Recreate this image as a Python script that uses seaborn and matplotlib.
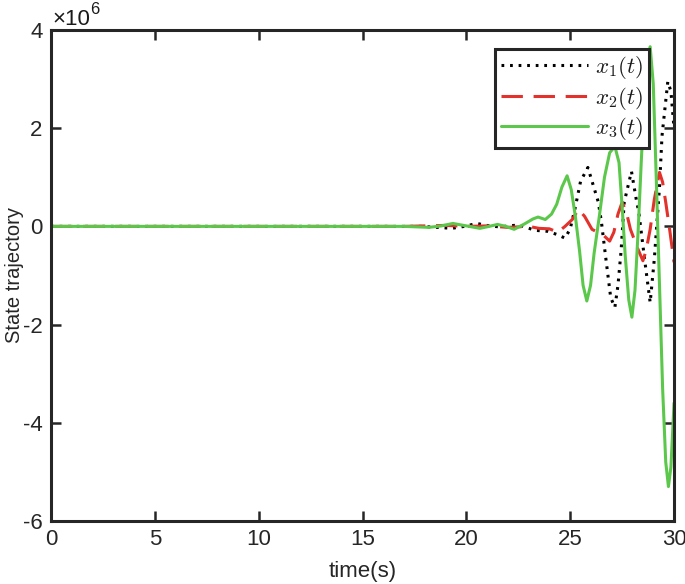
import numpy as np
import pandas as pd
import matplotlib
matplotlib.use("Agg")
import matplotlib.pyplot as plt
import seaborn as sns
from matplotlib.font_manager import FontProperties

# ─────────────────────────────────────────────
#  Data (values in units of 1e6)
# ─────────────────────────────────────────────
t_x1 = [0, 17, 17.8, 18.6, 19.3, 19.9, 20.5, 21.1, 21.6, 22.3, 22.6, 23.3, 23.9,
        24.4, 24.75, 25.0, 25.25, 25.5, 25.85, 26.1, 26.35, 26.5, 26.7, 26.95,
        27.15, 27.3, 27.45, 27.6, 27.95, 28.2, 28.3, 28.6, 28.85, 29.05, 29.3,
        29.42, 29.7, 29.85, 30.0]
x1 = [0, 0, 0.0, -0.02, -0.04, 0.0, 0.06, 0.01, -0.01, 0.02, 0.02, -0.08, -0.1,
      -0.17, -0.24, -0.05, 0.4, 0.92, 1.2, 0.85, 0.5, 0.1, -0.6, -1.45,
      -1.65, -1.2, -0.5, 0.49, 1.12, 0.5, 0.3, -0.73, -1.55, -0.67, 0.8,
      1.84, 2.95, 2.75, 2.0]

t_x2 = [0, 17, 18, 19, 20, 21, 22, 23, 23.5, 24, 24.4, 24.75, 25.0, 25.1, 25.4,
        25.7, 26.05, 26.6, 26.9, 27.1, 27.3, 27.5, 27.7, 27.9, 28.25, 28.5,
        28.65, 28.85, 29.05, 29.3, 29.45, 29.6, 29.8, 30.0]
x2 = [0, 0, 0.01, 0.02, 0.0, 0.01, -0.02, 0.0, -0.04, -0.05, -0.12, 0.0, 0.1, 0.14, 0.35,
      0.2, -0.06, -0.18, -0.3, -0.12, 0.25, 0.49, 0.3, -0.06, -0.45, -0.7,
      -0.5, -0.06, 0.55, 1.1, 0.9, 0.49, -0.1, -0.73]

t_x3 = [0, 17, 18.2, 18.8, 19.35, 20.0, 20.65, 21.1, 21.5, 21.9, 22.3, 22.8,
        23.2, 23.45, 23.8, 24.1, 24.35, 24.6, 24.85, 25.05, 25.25, 25.45, 25.62,
        25.8, 25.98, 26.15, 26.4, 26.65, 26.9, 27.15, 27.35, 27.5, 27.65, 27.82,
        27.97, 28.12, 28.27, 28.42, 28.57, 28.72, 28.85, 29.0, 29.15, 29.3,
        29.45, 29.6, 29.73, 29.85, 30.0]
x3 = [0, 0, -0.02, 0.01, 0.06, 0.01, -0.04, 0.0, 0.04, 0.0, -0.06, 0.05,
      0.15, 0.19, 0.14, 0.25, 0.45, 0.8, 1.03, 0.75, 0.2, -0.5, -1.2,
      -1.52, -1.2, -0.55, 0.2, 1.0, 1.5, 1.63, 1.3, 0.4, -0.6, -1.5,
      -1.85, -1.3, -0.1, 1.3, 2.6, 3.45, 3.66, 2.9, 0.9, -1.2,
      -3.3, -4.8, -5.3, -4.9, -3.6]

series_labels = [r"$x_1(t)$", r"$x_2(t)$", r"$x_3(t)$"]
x_ticks = [0, 5, 10, 15, 20, 25, 30]
y_ticks = [-6, -4, -2, 0, 2, 4]

# ─────────────────────────────────────────────
#  Style
# ─────────────────────────────────────────────
sns.set_style("ticks")
plt.rcParams["font.family"] = ["Liberation Sans", "DejaVu Sans"]
plt.rcParams["axes.unicode_minus"] = False
plt.rcParams["axes.edgecolor"] = "#262626"
plt.rcParams["xtick.color"] = "#262626"
plt.rcParams["ytick.color"] = "#262626"
plt.rcParams["text.color"] = "#1a1a1a"

fig = plt.figure(figsize=(6.85, 5.84), dpi=100)
ax = fig.add_axes([0.0745, 0.108, 0.9095, 0.8406])

df1 = pd.DataFrame({"t": t_x1, "v": x1})
df2 = pd.DataFrame({"t": t_x2, "v": x2})
df3 = pd.DataFrame({"t": t_x3, "v": x3})

sns.lineplot(data=df1, x="t", y="v", ax=ax, color="black", linestyle=(0, (0.9, 1.9)),
             linewidth=2.2, label=series_labels[0])
sns.lineplot(data=df2, x="t", y="v", ax=ax, color="#E3312B", linestyle=(0, (7, 3.5)),
             linewidth=2.2, label=series_labels[1])
sns.lineplot(data=df3, x="t", y="v", ax=ax, color="#5BC84B", linestyle="-",
             linewidth=2.2, label=series_labels[2])

ax.set_xlim(0, 30)
ax.set_ylim(-6, 4)
ax.set_xticks(x_ticks)
ax.set_yticks(y_ticks)

ax.tick_params(direction="in", top=True, right=True, length=7, width=1.8,
               labelsize=16, pad=6)
for s in ax.spines.values():
    s.set_linewidth(2.2)
    s.set_visible(True)

# exponent marker (x10^6) above the y axis
ax.text(0.002, 1.010, "\u00d710", transform=ax.transAxes, fontsize=16,
        ha="left", va="baseline")
ax.text(0.0626, 1.0326, "6", transform=ax.transAxes, fontsize=12,
        ha="left", va="baseline")

ax.set_xlabel("time(s)", fontsize=16)
ax.set_ylabel("State trajectory", fontsize=14.5)
ax.xaxis.set_label_coords(0.5, -0.082)
ax.yaxis.set_label_coords(-0.044, 0.5)

leg_font = FontProperties(size=16.5, math_fontfamily="cm")
leg = ax.legend(loc="upper left", bbox_to_anchor=(0.713, 0.962), prop=leg_font,
                frameon=True, fancybox=False, handlelength=3.8, borderpad=0.25,
                labelspacing=0.15, handletextpad=0.3, borderaxespad=0)
leg.get_frame().set_edgecolor("#262626")
leg.get_frame().set_linewidth(2.2)
leg.get_frame().set_alpha(1)

fig.savefig("out.png", dpi=100)
